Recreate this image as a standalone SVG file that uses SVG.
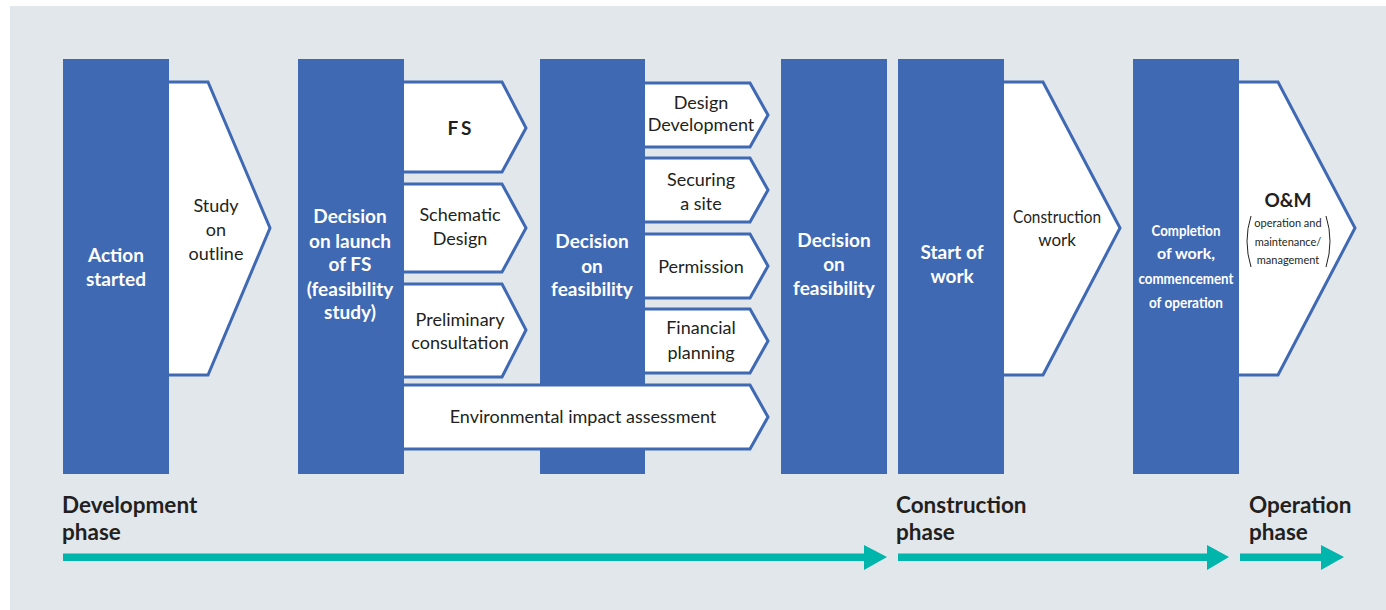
<svg xmlns="http://www.w3.org/2000/svg" width="1386" height="610" viewBox="0 0 1386 610">
<defs>
<style>
.bg{fill:#e2e7ec}
.col{fill:#3f69b3}
.arr{fill:#fff;stroke:#3f69b3;stroke-width:3;stroke-linejoin:miter}
.wt{font-family:Lato,"Noto Sans",sans-serif;font-weight:bold;font-size:19px;fill:#fff;text-anchor:middle}
.wc{font-family:Lato,"Noto Sans",sans-serif;font-weight:bold;font-size:16px;fill:#fff;text-anchor:middle}
.bt{font-family:Lato,"Noto Sans",sans-serif;font-size:18px;fill:#231f20;text-anchor:middle}
.bs{font-family:Lato,"Noto Sans",sans-serif;font-size:11px;fill:#231f20;text-anchor:middle}
.ph{font-family:Lato,"Noto Sans",sans-serif;font-weight:bold;font-size:22.5px;fill:#231f20}
.tl{fill:#00b5ab}
</style>
</defs>
<rect class="bg" x="10" y="6" width="1376" height="604"/>

<g id="study-outline"><path class="arr" d="M169,82 H208 L270,228 L208,375 H169"/>
<text class="bt"><tspan x="216" y="212">Study</tspan><tspan x="216" y="236">on</tspan><tspan x="216" y="260">outline</tspan></text></g>

<g id="fs"><path class="arr" d="M404,82 H502 L526,128 L502,172 H404"/>
<text class="bt" style="font-weight:bold;font-size:19px" letter-spacing="3"><tspan x="461" y="135">FS</tspan></text></g>
<g id="schematic"><path class="arr" d="M404,184 H502 L526,228 L502,272 H404"/>
<text class="bt"><tspan x="460" y="221">Schematic</tspan><tspan x="460" y="245">Design</tspan></text></g>
<g id="preliminary"><path class="arr" d="M404,284 H502 L526,330 L502,377 H404"/>
<text class="bt"><tspan x="460" y="326">Preliminary</tspan><tspan x="460" y="349">consultation</tspan></text></g>

<g id="design-dev"><path class="arr" d="M645,83 H750 L768,115 L750,147 H645"/>
<text class="bt"><tspan x="701" y="109">Design</tspan><tspan x="701" y="131">Development</tspan></text></g>
<g id="securing"><path class="arr" d="M645,158 H750 L768,190 L750,222 H645"/>
<text class="bt"><tspan x="701" y="186">Securing</tspan><tspan x="701" y="210">a site</tspan></text></g>
<g id="permission"><path class="arr" d="M645,234 H750 L768,266 L750,298 H645"/>
<text class="bt"><tspan x="701" y="273">Permission</tspan></text></g>
<g id="financial"><path class="arr" d="M645,309 H750 L768,341 L750,373 H645"/>
<text class="bt"><tspan x="701" y="334">Financial</tspan><tspan x="701" y="359">planning</tspan></text></g>

<g id="construction-work"><path class="arr" d="M1004,82 H1043 L1120,228 L1043,375 H1004"/>
<text class="bt" style="font-size:17px"><tspan x="1057" y="223" textLength="88" lengthAdjust="spacingAndGlyphs">Construction</tspan><tspan x="1057" y="246">work</tspan></text></g>

<g id="om"><path class="arr" d="M1239,82 H1278 L1355,228 L1278,375 H1239"/>
<text class="bt" style="font-weight:bold;font-size:19px"><tspan x="1288" y="207">O&amp;M</tspan></text>
<text class="bs"><tspan x="1288" y="227">operation and</tspan><tspan x="1288" y="246">maintenance/</tspan><tspan x="1288" y="264">management</tspan></text>
<path d="M1251,216 Q1243,241 1251,267 M1326,216 Q1334,241 1326,267" fill="none" stroke="#231f20" stroke-width="1"/></g>

<g id="action-started"><rect class="col" x="63" y="59" width="106" height="415"/>
<text class="wt"><tspan x="116" y="262">Action</tspan><tspan x="116" y="286">started</tspan></text></g>
<g id="decision-launch"><rect class="col" x="298" y="59" width="106" height="415"/>
<text class="wt"><tspan x="350" y="223">Decision</tspan><tspan x="350" y="248">on launch</tspan><tspan x="350" y="271">of FS</tspan><tspan x="350" y="296">(feasibility</tspan><tspan x="350" y="319">study)</tspan></text></g>
<g id="decision-feasibility-1"><rect class="col" x="540" y="59" width="105" height="415"/>
<text class="wt"><tspan x="592" y="248">Decision</tspan><tspan x="592" y="273">on</tspan><tspan x="592" y="296">feasibility</tspan></text></g>
<g id="decision-feasibility-2"><rect class="col" x="781" y="59" width="106" height="415"/>
<text class="wt"><tspan x="834" y="247">Decision</tspan><tspan x="834" y="271">on</tspan><tspan x="834" y="295">feasibility</tspan></text></g>
<g id="start-work"><rect class="col" x="898" y="59" width="106" height="415"/>
<text class="wt"><tspan x="952" y="259">Start of</tspan><tspan x="952" y="283">work</tspan></text></g>
<g id="completion"><rect class="col" x="1133" y="59" width="106" height="415"/>
<text class="wc"><tspan x="1186" y="236" textLength="69" lengthAdjust="spacingAndGlyphs">Completion</tspan><tspan x="1186" y="259">of work,</tspan><tspan x="1186" y="284" textLength="95" lengthAdjust="spacingAndGlyphs">commencement</tspan><tspan x="1186" y="308" textLength="74" lengthAdjust="spacingAndGlyphs">of operation</tspan></text></g>

<g id="environmental"><path class="arr" d="M404,385 H750 L768,417 L750,449 H404"/>
<text class="bt"><tspan x="583" y="423">Environmental impact assessment</tspan></text></g>

<g id="phases">
<text class="ph"><tspan x="62" y="513">Development</tspan><tspan x="62" y="540">phase</tspan></text>
<text class="ph"><tspan x="896" y="513">Construction</tspan><tspan x="896" y="540">phase</tspan></text>
<text class="ph"><tspan x="1249" y="513">Operation</tspan><tspan x="1249" y="540">phase</tspan></text>
</g>
<g id="connectors">
<path class="tl" d="M63,553.5 H864 V545 L887,557 L864,570 V561 H63 Z"/>
<path class="tl" d="M898,553.5 H1207 V545 L1229,557 L1207,570 V561 H898 Z"/>
<path class="tl" d="M1240,553.5 H1321 V545 L1344,557 L1321,570 V561 H1240 Z"/>
</g>
</svg>
